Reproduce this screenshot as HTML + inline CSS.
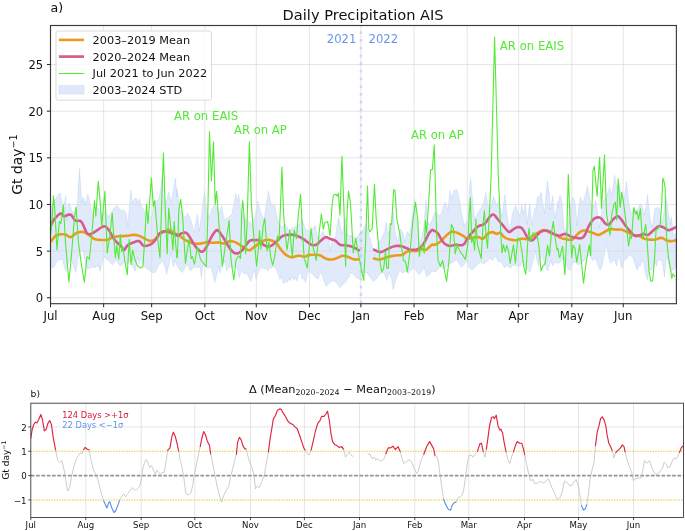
<!DOCTYPE html>
<html><head><meta charset="utf-8"><title>Daily Precipitation AIS</title><style>html,body{margin:0;padding:0;background:#fff}svg{display:block}svg{will-change:transform}</style></head><body>
<svg width="685" height="531" viewBox="0 0 685 531" font-family="DejaVu Sans, Liberation Sans, sans-serif">
<rect width="685" height="531" fill="#fff"/>
<defs><clipPath id="ca"><rect x="50.5" y="25.5" width="625.9" height="278.2"/></clipPath><clipPath id="cb"><rect x="30.8" y="403.2" width="652.7" height="114.3"/></clipPath></defs>
<g clip-path="url(#ca)"><polygon points="50.9,209.3 51.8,205.6 54.6,200.8 58.4,194.2 60.3,193.2 62.2,203.7 64.1,204.6 65.7,196.1 67.0,220.7 68.1,204.6 69.3,202.7 71.7,210.3 74.6,214.1 77.4,203.7 78.4,184.7 79.5,168.5 80.6,184.7 81.8,202.7 83.1,197.0 85.0,203.7 87.9,194.2 90.1,203.7 92.6,215.0 94.5,216.9 97.7,207.4 101.1,214.1 104.9,211.2 108.7,216.9 113.5,208.4 117.3,205.6 120.1,210.3 123.9,210.3 126.2,213.1 127.9,226.1 129.6,203.7 130.9,190.4 132.5,203.7 134.3,198.9 136.2,198.0 137.6,202.7 139.5,198.9 141.9,207.4 143.8,209.3 145.7,216.9 148.6,218.8 152.0,215.0 154.3,200.8 158.1,200.8 160.0,194.2 161.9,178.0 163.2,194.2 165.7,203.7 168.5,192.3 171.4,202.7 173.3,190.4 175.5,178.0 176.9,197.1 177.1,188.5 179.7,208.5 182.6,214.2 185.4,218.0 187.3,213.2 190.2,218.0 194.2,232.4 197.4,214.2 199.3,231.3 201.8,212.3 204.4,191.1 206.3,208.5 209.2,218.0 212.0,208.5 214.9,204.7 217.7,209.5 219.6,214.2 221.5,205.7 224.3,219.9 228.7,217.1 231.9,214.2 233.8,204.7 235.7,193.3 237.2,200.9 238.8,194.8 240.5,208.5 243.3,216.1 247.1,219.9 252.8,225.0 255.7,214.2 257.9,200.9 259.5,208.5 261.4,214.2 264.2,219.9 266.1,204.7 268.4,191.1 270.8,202.8 272.7,206.6 274.6,204.7 277.5,219.9 281.3,227.5 285.1,223.7 288.9,230.3 292.7,227.5 296.5,226.5 300.3,223.7 302.2,218.9 304.1,225.6 305.8,229.2 310.5,231.1 315.3,225.4 318.1,238.7 322.9,231.1 326.7,238.7 329.1,240.6 330.5,250.4 332.0,240.6 335.2,238.7 337.3,223.5 338.6,217.4 340.3,225.4 342.2,233.9 344.1,225.4 345.3,218.0 346.4,225.4 347.7,234.9 351.4,235.8 356.1,238.7 359.9,233.0 363.1,230.1 366.1,223.5 370.1,239.0 374.9,255.2 378.5,243.8 382.3,237.1 384.8,231.1 386.1,222.1 387.6,233.5 390.6,229.3 393.3,211.7 395.4,233.5 397.5,241.7 400.5,228.8 403.2,233.5 404.7,241.7 407.3,231.4 409.2,235.6 411.3,224.2 414.6,198.8 416.6,221.0 419.7,244.9 421.8,236.6 423.8,226.3 425.9,199.7 427.4,221.0 430.1,225.2 434.7,212.3 440.4,216.1 445.1,201.9 448.0,210.4 449.9,190.5 451.8,199.0 453.7,190.5 456.5,189.5 458.4,194.3 461.3,212.3 464.1,225.0 467.9,219.9 469.4,187.6 470.8,179.1 472.3,197.1 474.6,219.9 479.3,210.4 483.1,204.7 485.9,192.4 487.8,204.7 490.7,208.5 493.5,196.2 496.4,204.7 499.2,200.9 500.0,207.6 502.1,216.9 504.9,194.7 507.2,215.9 509.9,231.5 512.3,213.8 515.5,205.5 518.0,213.2 520.3,214.8 521.8,203.9 523.5,214.8 525.4,202.8 527.1,224.3 529.6,203.6 532.1,225.2 534.7,208.5 535.7,209.7 537.4,197.1 539.8,196.2 541.2,192.2 543.1,205.5 544.6,213.8 546.1,193.1 547.4,181.0 549.0,192.2 550.3,209.7 552.7,195.8 554.8,218.9 556.7,208.5 557.9,200.9 558.2,207.6 559.9,195.4 561.6,198.4 564.1,228.4 567.0,233.2 570.4,205.7 572.5,196.9 574.5,199.6 575.7,207.8 577.0,226.0 578.5,208.9 580.4,197.3 582.0,203.2 584.2,198.4 585.9,193.3 587.5,185.9 589.0,194.3 591.1,205.7 594.3,205.7 595.6,200.5 597.3,211.0 599.2,228.1 600.9,216.1 603.6,200.5 606.4,196.9 609.7,187.1 611.2,195.4 612.9,187.6 614.8,175.3 616.7,187.6 618.6,181.9 620.5,191.4 622.4,197.1 623.9,200.5 626.5,181.9 628.5,200.5 630.5,211.0 632.0,213.1 634.1,209.3 637.2,211.0 640.4,203.6 642.5,207.8 644.6,215.0 646.1,205.7 647.6,194.3 648.6,205.7 650.3,220.3 652.4,227.5 653.9,216.1 654.8,208.9 657.5,207.4 659.6,208.9 660.5,216.1 662.0,224.3 664.1,211.0 665.6,195.4 667.4,205.7 668.9,218.2 670.4,224.3 671.3,217.1 672.5,226.3 673.4,234.7 674.6,233.8 675.7,240.0 675.9,266.1 674.2,269.8 673.0,269.2 671.3,271.0 669.7,268.5 668.5,262.3 667.2,256.8 666.4,258.0 665.5,267.3 664.5,277.2 663.3,268.5 662.0,259.9 661.0,261.1 659.5,259.2 658.1,259.9 656.5,266.1 655.6,262.3 654.3,264.8 652.7,267.9 651.1,270.4 649.9,269.2 648.6,272.3 647.4,279.7 646.5,277.2 645.3,272.3 644.0,264.8 642.8,260.5 641.6,261.7 640.0,266.7 638.7,264.8 637.2,270.4 636.2,267.9 634.7,262.9 633.2,258.0 631.6,256.1 629.8,255.5 627.9,256.1 626.3,259.9 624.8,258.6 623.6,262.3 622.1,268.5 620.8,264.8 619.6,257.4 618.0,259.2 616.4,266.1 614.9,259.9 613.4,260.5 611.8,262.3 610.2,262.9 608.7,257.4 607.4,248.7 606.5,245.0 605.6,247.4 603.7,257.4 601.9,266.7 600.0,270.4 598.1,265.2 595.3,258.2 592.3,260.5 590.0,254.7 586.9,257.0 584.1,260.5 581.3,262.9 578.3,265.2 575.2,261.7 572.4,264.0 570.0,270.5 568.3,269.0 566.3,264.8 563.1,258.6 561.1,260.7 559.0,263.3 556.4,262.8 554.3,262.3 552.8,265.9 550.7,260.7 549.2,265.9 547.6,271.1 545.5,266.9 543.5,259.7 541.4,256.6 539.9,257.6 538.3,265.9 537.1,260.7 535.7,251.4 534.2,256.6 532.1,263.8 530.0,272.1 527.4,270.0 524.3,265.9 522.3,260.7 520.2,266.4 518.1,265.4 515.5,265.9 512.9,264.8 510.9,268.0 508.8,266.9 506.7,265.4 504.7,268.0 502.1,263.8 500.0,260.7 498.4,261.7 495.3,255.8 492.5,260.5 489.7,258.2 486.7,261.7 483.6,264.0 480.8,261.7 478.0,264.0 475.0,267.5 471.5,269.9 469.2,267.5 466.8,260.5 464.5,264.0 461.7,267.5 458.6,262.9 456.3,259.4 454.0,261.7 451.6,262.9 449.3,264.0 446.3,266.4 443.5,268.7 441.1,266.4 438.3,268.7 435.3,272.2 432.2,271.0 429.4,274.5 426.6,276.9 424.3,267.5 421.3,272.2 418.9,274.5 416.6,271.0 413.6,267.5 411.2,269.9 408.4,273.4 405.6,271.0 402.6,273.4 400.2,269.9 397.9,274.5 395.6,280.4 393.2,289.7 391.6,279.2 389.2,272.2 386.9,280.4 385.1,275.7 382.7,272.2 379.2,274.5 376.2,279.2 373.4,281.5 370.6,278.0 367.5,273.4 364.5,272.2 361.7,274.5 358.9,279.2 355.8,276.9 352.8,273.4 350.0,272.2 349.5,275.7 346.0,281.5 342.5,285.1 339.7,287.4 336.7,282.7 333.2,280.4 329.7,282.7 326.2,286.2 323.8,280.4 321.0,271.0 318.0,279.2 314.9,276.9 312.1,273.4 310.0,272.1 308.8,271.1 307.3,274.2 305.7,282.4 303.7,278.3 302.1,279.3 300.6,271.1 298.5,275.2 296.9,280.9 295.4,277.3 293.8,280.4 291.8,276.2 290.2,280.9 288.7,278.3 287.1,282.4 285.5,281.4 283.5,283.5 281.4,276.2 279.9,279.3 277.8,273.1 275.7,268.5 273.6,265.9 271.6,268.5 270.0,266.9 268.0,271.1 265.9,268.0 264.3,269.0 261.7,267.4 259.7,269.0 257.6,274.2 256.0,279.3 254.5,270.0 252.9,274.2 250.9,281.4 249.3,278.3 246.7,273.1 245.0,274.2 243.3,273.1 241.3,271.1 239.2,277.8 237.6,271.1 236.1,264.8 233.0,267.4 230.9,268.0 228.3,265.9 226.8,271.1 224.2,260.7 221.6,266.9 220.0,273.1 218.5,265.9 216.9,274.2 214.9,282.4 212.8,274.2 210.7,265.9 208.1,269.0 205.0,265.9 203.0,264.8 201.4,277.8 199.8,265.9 198.3,268.0 195.7,266.9 192.6,268.0 190.5,271.1 187.4,264.8 185.4,266.9 182.2,272.6 180.0,270.0 177.3,265.9 175.2,260.7 173.7,266.9 172.1,260.7 171.1,252.4 169.0,263.8 166.7,274.2 164.9,266.9 162.8,260.7 160.7,262.8 157.6,266.9 155.5,272.1 153.5,273.1 150.4,271.1 148.3,269.5 145.7,268.0 143.1,264.8 140.5,258.6 139.0,263.8 137.4,256.6 135.4,271.1 133.3,268.0 130.7,260.7 127.1,264.3 124.5,261.2 122.4,264.8 120.0,265.9 116.3,259.7 112.1,264.8 109.0,260.7 106.4,259.2 104.9,256.6 101.8,263.8 100.2,271.6 98.1,265.4 95.5,267.4 91.4,266.9 87.8,269.5 85.7,265.9 84.2,255.5 82.6,249.3 80.5,251.4 78.0,258.6 75.9,272.6 73.8,266.9 70.7,258.6 68.0,264.0 65.5,271.1 62.4,259.2 59.3,259.7 56.2,262.3 54.0,267.0 52.1,268.0 50.5,262.0" fill="#6495ed" fill-opacity="0.2" stroke="#6495ed" stroke-opacity="0.22" stroke-width="0.7" stroke-linejoin="round"/>
<path d="M103.66 25.5V303.7 M151.67 25.5V303.7 M204.83 25.5V303.7 M256.28 25.5V303.7 M309.43 25.5V303.7 M360.88 25.5V303.7 M414.04 25.5V303.7 M467.20 25.5V303.7 M518.64 25.5V303.7 M571.80 25.5V303.7 M623.24 25.5V303.7 M50.5 297.80H676.4 M50.5 251.15H676.4 M50.5 204.50H676.4 M50.5 157.85H676.4 M50.5 111.20H676.4 M50.5 64.55H676.4" stroke="#dadada" stroke-width="0.7" fill="none"/>
<line x1="360.9" y1="25.5" x2="360.9" y2="303.7" stroke="#6495ed" stroke-opacity="0.27" stroke-width="2.5" stroke-dasharray="2.8 4.9" stroke-dashoffset="1.9"/>
<polyline points="50.9,241.5 51.7,240.4 52.9,238.7 54.2,237.1 55.6,235.8 57.0,235.1 58.4,234.7 59.9,234.4 61.3,234.3 62.5,234.2 63.7,234.3 64.9,234.5 66.0,234.9 67.2,235.5 68.3,236.3 69.5,237.0 70.8,237.1 72.1,236.5 73.5,235.2 75.0,233.9 76.5,233.0 78.1,232.4 79.8,232.0 81.5,231.9 83.1,232.0 84.6,232.4 86.0,233.1 87.4,234.0 88.8,234.9 90.2,235.9 91.6,237.1 93.0,238.2 94.5,239.0 96.1,239.5 97.8,239.8 99.5,239.9 101.1,240.0 102.8,240.0 104.5,240.0 106.2,239.9 107.8,239.6 109.2,239.1 110.6,238.4 112.0,237.7 113.5,237.1 115.1,236.8 116.7,236.5 118.4,236.3 120.1,236.2 122.0,236.1 124.0,236.0 125.9,235.9 127.7,235.8 129.3,235.6 130.7,235.2 132.0,235.0 133.4,234.9 134.8,234.9 136.3,235.1 137.7,235.4 139.1,235.8 140.5,236.4 141.9,237.1 143.4,237.9 144.8,238.7 146.2,239.4 147.7,240.1 149.1,240.7 150.5,240.9 151.7,240.8 152.9,240.4 154.1,239.8 155.2,239.0 156.4,237.9 157.5,236.5 158.7,235.1 160.0,233.9 161.4,233.0 162.9,232.2 164.4,231.6 165.7,231.1 166.8,230.5 167.7,230.0 168.6,229.7 169.5,229.7 170.4,230.2 171.3,230.9 172.2,231.8 173.3,232.6 174.5,233.2 175.8,233.8 177.0,234.4 178.0,234.9 178.6,235.1 178.9,235.2 179.2,235.4 179.7,235.8 180.7,236.6 181.9,237.6 183.2,238.6 184.5,239.6 185.8,240.4 187.3,241.2 188.7,241.9 190.2,242.4 191.6,242.9 193.0,243.3 194.5,243.6 195.9,243.8 197.3,243.8 198.7,243.8 200.1,243.6 201.6,243.4 203.0,243.1 204.4,242.7 205.8,242.3 207.3,242.1 208.7,242.1 210.1,242.4 211.5,242.7 213.0,242.8 214.4,242.8 215.8,242.6 217.2,242.5 218.7,242.4 220.1,242.7 221.5,243.0 222.9,243.4 224.3,243.4 225.8,243.0 227.2,242.2 228.6,241.5 230.0,241.1 231.5,241.1 232.9,241.4 234.3,241.9 235.7,242.4 237.2,243.2 238.6,244.0 240.1,245.0 241.4,245.9 242.7,246.7 243.9,247.6 245.1,248.4 246.2,249.1 247.2,249.6 248.1,250.0 249.0,250.2 250.0,250.0 251.1,249.5 252.2,248.6 253.4,247.6 254.7,246.6 256.1,245.6 257.5,244.5 259.0,243.4 260.4,242.4 261.8,241.6 263.3,240.9 264.7,240.3 266.1,240.0 267.5,239.9 269.0,239.9 270.4,240.2 271.8,240.6 273.0,241.0 274.2,241.6 275.4,242.4 276.5,243.4 277.7,244.8 278.9,246.6 280.1,248.4 281.3,250.0 282.4,251.4 283.6,252.7 284.8,253.8 286.0,254.8 287.4,255.7 288.8,256.4 290.2,257.0 291.7,257.2 293.3,257.1 295.0,256.6 296.7,256.0 298.4,255.7 300.1,255.8 301.9,256.2 303.6,256.5 305.0,256.7 305.9,256.5 306.4,256.1 306.9,255.7 307.7,255.3 308.9,255.1 310.3,254.9 311.8,254.8 313.4,254.8 315.0,254.8 316.7,254.8 318.4,255.0 320.0,255.3 321.5,256.0 322.9,256.9 324.3,257.9 325.7,258.6 327.1,259.0 328.6,259.4 330.0,259.5 331.4,259.5 332.8,259.3 334.3,259.0 335.7,258.5 337.1,258.0 338.6,257.4 340.0,256.7 341.4,256.1 342.8,255.7 344.0,255.7 345.2,255.9 346.3,256.3 347.6,256.7 348.9,257.2 350.3,258.0 351.8,258.6 353.2,259.1 354.8,259.4 356.4,259.5 357.9,259.5 358.9,259.5" fill="none" stroke="#ec9a1c" stroke-width="2.6" stroke-linejoin="round" stroke-linecap="round"/>
<polyline points="374.1,258.6 375.1,258.8 376.6,259.2 378.3,259.5 379.8,259.5 381.2,259.2 382.7,258.7 384.1,258.1 385.5,257.6 386.9,257.2 388.4,256.8 389.8,256.4 391.2,256.1 392.6,255.9 394.0,255.7 395.5,255.5 396.9,255.3 398.4,255.2 399.9,255.2 401.3,255.1 402.6,254.8 403.6,254.2 404.5,253.4 405.4,252.6 406.4,251.9 407.5,251.5 408.6,251.3 409.9,251.1 411.1,251.0 412.5,251.0 414.0,251.0 415.5,251.1 416.8,251.0 417.9,250.6 418.8,250.0 419.6,249.4 420.6,249.1 421.8,249.2 423.0,249.6 424.2,250.0 425.4,250.0 426.4,249.6 427.4,248.8 428.3,248.0 429.2,247.2 429.9,246.5 430.7,245.8 431.3,245.2 432.0,244.7 432.6,244.6 433.2,244.8 433.8,244.9 434.7,244.7 435.9,244.2 437.4,243.5 438.9,242.6 440.4,241.5 441.8,240.2 443.2,238.7 444.7,237.2 446.1,235.8 447.5,234.5 448.9,233.3 450.3,232.2 451.8,231.6 453.2,231.5 454.6,231.9 456.0,232.4 457.5,233.0 458.9,233.6 460.4,234.3 461.9,235.1 463.2,235.8 464.2,236.6 465.1,237.5 465.9,238.2 467.0,238.7 468.2,238.7 469.7,238.4 471.2,238.0 472.6,237.7 474.1,237.5 475.6,237.3 477.0,237.1 478.4,237.1 479.6,237.5 480.8,238.2 481.9,238.7 483.1,238.7 484.3,237.8 485.5,236.5 486.6,235.0 487.8,233.9 489.0,233.1 490.3,232.5 491.5,232.2 492.6,232.0 493.6,232.3 494.5,232.9 495.5,233.5 496.4,233.9 497.3,233.7 498.2,233.3 499.2,232.9 500.2,233.0 501.3,233.8 502.4,235.2 503.6,236.6 504.9,237.7 506.3,238.4 507.7,238.9 509.2,239.3 510.6,239.6 512.0,239.9 513.5,240.1 514.9,240.2 516.3,240.2 517.7,239.9 519.1,239.4 520.6,238.9 522.0,238.7 523.4,238.7 524.8,238.9 526.3,239.1 527.7,239.0 529.1,238.5 530.5,237.7 532.0,236.7 533.4,235.8 534.8,234.8 536.3,233.8 537.7,232.8 539.1,232.0 540.3,231.3 541.5,230.7 542.7,230.3 543.8,230.1 545.0,230.3 546.2,230.8 547.4,231.4 548.6,232.0 549.8,232.5 551.0,233.0 552.2,233.5 553.3,233.9 554.2,234.3 555.0,234.5 555.7,234.8 556.5,235.2 557.5,235.8 558.5,236.6 559.6,237.3 560.7,237.9 561.8,238.3 562.9,238.6 564.1,238.8 565.4,239.0 567.0,239.4 568.7,239.7 570.4,239.9 572.1,239.6 573.6,238.6 575.0,237.0 576.4,235.3 577.8,233.9 579.0,232.8 580.2,231.9 581.4,231.2 582.5,230.7 583.7,230.5 584.8,230.5 586.0,230.8 587.3,231.1 588.6,231.4 590.1,231.9 591.5,232.4 593.0,233.0 594.4,233.5 595.8,234.2 597.2,234.7 598.6,234.9 600.1,234.5 601.5,233.7 602.9,232.8 604.4,232.0 605.8,231.2 607.2,230.4 608.6,229.6 610.0,229.2 611.5,229.0 612.9,229.2 614.3,229.4 615.7,229.5 617.2,229.6 618.6,229.5 620.0,229.5 621.4,229.7 622.9,230.1 624.3,230.7 625.7,231.4 627.1,232.0 628.5,232.7 630.0,233.5 631.4,234.3 632.8,234.9 634.2,235.2 635.7,235.3 637.1,235.5 638.5,235.8 639.9,236.4 641.4,237.2 642.8,238.0 644.2,238.7 645.6,239.0 647.0,239.3 648.5,239.5 649.9,239.6 651.3,239.7 652.7,239.8 654.2,239.8 655.6,239.6 657.0,239.1 658.4,238.5 659.9,237.9 661.3,237.7 662.7,238.1 664.2,239.0 665.6,239.9 667.0,240.6 668.3,240.9 669.5,241.1 670.6,241.1 671.7,241.1 672.8,241.0 673.9,240.7 674.9,240.4 675.5,240.2" fill="none" stroke="#ec9a1c" stroke-width="2.6" stroke-linejoin="round" stroke-linecap="round"/>
<polyline points="50.9,225.4 51.5,224.1 52.4,222.4 53.4,220.4 54.6,218.7 56.1,217.1 57.8,215.5 59.5,214.1 60.9,213.4 61.9,213.7 62.5,214.6 63.2,215.7 64.1,216.3 65.5,216.0 67.1,215.2 68.8,214.5 70.4,214.6 71.7,215.6 73.0,217.4 74.2,219.3 75.5,220.6 76.9,221.0 78.3,220.8 79.8,220.7 81.2,221.6 82.7,223.9 84.2,227.3 85.6,230.6 86.9,233.0 88.0,234.0 88.9,234.3 89.7,234.2 90.7,233.9 91.7,233.6 92.8,233.1 94.0,232.3 95.5,231.4 97.4,230.1 99.7,228.5 102.0,227.0 104.0,226.3 105.4,226.5 106.5,227.3 107.6,228.6 108.7,230.1 110.1,232.1 111.5,234.7 112.9,237.3 114.4,239.6 116.1,241.5 117.9,243.3 119.7,244.8 121.1,246.2 122.0,247.6 122.7,248.9 123.2,249.8 123.9,250.0 124.8,249.4 125.6,248.1 126.6,246.5 127.7,245.3 129.0,244.4 130.4,243.7 131.9,243.0 133.4,242.4 134.9,241.9 136.3,241.3 137.7,241.0 139.1,241.1 140.3,242.0 141.4,243.5 142.5,245.0 143.8,245.9 145.6,246.0 147.6,245.6 149.6,244.9 151.4,244.0 153.1,242.7 154.6,241.0 156.0,239.2 157.1,237.7 157.8,236.5 158.1,235.6 158.4,234.7 159.0,233.9 160.0,233.1 161.2,232.4 162.5,231.8 163.8,231.4 165.0,231.3 166.1,231.5 167.3,231.7 168.5,232.0 169.7,232.4 170.9,232.9 172.1,233.4 173.3,233.9 174.5,234.4 175.9,235.0 177.1,235.5 178.0,235.8 178.4,235.8 178.5,235.6 178.5,235.2 178.8,234.9 179.5,234.4 180.5,233.9 181.6,233.3 182.6,233.0 183.5,232.7 184.5,232.5 185.4,232.6 186.4,233.0 187.3,233.8 188.3,234.9 189.2,236.3 190.2,237.7 191.1,239.3 192.0,241.0 193.0,242.7 194.0,244.3 195.1,245.9 196.3,247.5 197.6,248.9 198.7,250.0 199.7,250.9 200.7,251.4 201.6,251.7 202.5,251.6 203.4,251.0 204.4,250.1 205.3,248.8 206.3,247.2 207.4,245.1 208.6,242.6 209.8,240.1 211.1,237.7 212.4,235.4 213.9,233.0 215.4,231.1 216.8,230.1 218.0,230.4 219.2,231.5 220.3,233.2 221.5,234.9 222.7,236.6 223.9,238.5 225.1,240.5 226.2,242.4 227.4,244.4 228.6,246.5 229.8,248.4 231.0,250.0 232.2,251.3 233.4,252.3 234.5,253.1 235.7,253.5 236.9,253.5 238.1,253.3 239.3,252.7 240.5,251.9 241.7,250.8 242.9,249.4 244.0,247.8 245.2,246.2 246.4,244.7 247.5,243.1 248.7,241.6 250.0,240.6 251.4,240.1 252.9,240.0 254.3,240.1 255.7,240.2 256.7,240.1 257.6,240.0 258.5,240.1 259.5,240.6 260.6,241.5 261.7,242.9 262.9,244.3 264.2,245.3 265.6,245.9 267.0,246.3 268.4,246.4 269.9,246.2 271.3,245.7 272.7,244.8 274.2,243.6 275.6,242.4 277.0,241.1 278.4,239.5 279.9,238.0 281.3,236.8 282.7,236.0 284.1,235.4 285.5,235.1 287.0,234.9 288.6,234.7 290.3,234.6 292.0,234.7 293.6,234.9 295.1,235.2 296.5,235.6 297.9,236.1 299.3,236.8 300.8,237.5 302.4,238.5 303.9,239.4 305.0,240.2 305.7,240.6 305.9,240.8 306.2,241.1 306.7,241.5 307.7,242.2 308.9,243.2 310.2,244.1 311.5,244.7 312.7,245.0 313.9,245.2 315.0,245.1 316.2,244.7 317.4,244.0 318.6,242.8 319.8,241.6 321.0,240.6 322.2,239.5 323.4,238.5 324.5,237.6 325.7,237.1 326.9,237.2 328.1,237.8 329.3,238.5 330.5,239.0 331.7,239.4 332.8,239.6 334.0,240.0 335.2,240.6 336.4,241.5 337.5,242.7 338.7,243.9 340.0,244.7 341.3,245.1 342.8,245.2 344.3,245.2 345.6,245.3 346.9,245.5 348.1,245.7 349.2,245.9 350.4,246.2 351.6,246.6 352.8,247.1 354.0,247.6 355.1,248.1 356.2,248.7 357.3,249.4 358.3,250.0 358.9,250.4" fill="none" stroke="#d75c8e" stroke-width="2.6" stroke-linejoin="round" stroke-linecap="round"/>
<polyline points="374.1,249.7 374.8,250.0 375.8,250.6 376.9,251.1 377.9,251.6 378.8,251.8 379.7,252.0 380.6,252.1 381.7,251.9 383.0,251.4 384.4,250.7 385.9,249.9 387.4,249.1 388.9,248.4 390.3,247.7 391.7,247.1 393.1,246.6 394.4,246.3 395.5,246.0 396.7,245.9 397.8,245.9 399.0,245.9 400.2,246.1 401.4,246.3 402.6,246.6 403.8,247.0 405.0,247.5 406.1,248.1 407.3,248.5 408.5,248.9 409.6,249.2 410.8,249.5 412.1,249.7 413.5,249.7 414.9,249.7 416.4,249.5 417.8,249.1 419.0,248.4 420.3,247.6 421.4,246.5 422.5,245.3 423.6,243.8 424.5,242.1 425.5,240.3 426.3,238.7 427.1,237.1 427.8,235.6 428.5,234.2 429.2,233.0 429.9,232.0 430.7,231.2 431.4,230.6 432.0,230.1 432.3,229.8 432.3,229.8 432.4,229.8 432.8,230.1 433.7,230.5 435.0,231.1 436.3,231.9 437.5,233.0 438.6,234.4 439.5,236.2 440.4,238.0 441.3,239.6 442.3,240.9 443.2,242.1 444.1,243.1 445.1,244.0 446.2,244.7 447.4,245.3 448.6,245.7 449.9,245.9 451.3,245.7 452.7,245.4 454.2,245.0 455.6,244.7 456.8,244.8 458.1,245.0 459.2,245.2 460.3,245.3 461.3,245.2 462.3,245.1 463.2,244.7 464.1,244.0 465.0,242.7 466.0,241.1 466.9,239.3 467.9,237.7 469.0,236.2 470.2,234.8 471.4,233.4 472.6,232.0 474.0,230.5 475.4,229.0 476.8,227.5 478.4,226.3 480.0,225.5 481.7,225.0 483.4,224.4 485.0,223.5 486.3,222.0 487.5,220.1 488.7,218.3 489.7,216.8 490.7,215.8 491.7,215.0 492.6,214.6 493.5,214.6 494.5,215.1 495.4,216.1 496.3,217.4 497.3,218.7 498.4,220.0 499.6,221.5 500.9,223.0 502.1,224.4 503.3,225.9 504.6,227.5 505.8,229.0 506.8,230.1 507.6,231.0 508.3,231.6 508.9,232.0 509.7,232.0 510.5,231.6 511.5,230.8 512.5,229.9 513.5,229.2 514.4,228.6 515.4,228.0 516.3,227.6 517.2,227.3 518.2,227.1 519.2,227.1 520.2,227.3 521.0,227.6 521.8,228.2 522.5,229.0 523.1,229.9 523.9,231.1 524.8,232.6 525.7,234.4 526.7,236.2 527.7,237.7 528.6,238.8 529.6,239.7 530.5,240.3 531.5,240.6 532.4,240.3 533.4,239.6 534.3,238.7 535.3,237.7 536.2,236.6 537.1,235.3 538.1,234.0 539.1,233.0 540.2,232.2 541.4,231.5 542.6,231.0 543.8,230.7 545.0,230.5 546.2,230.5 547.4,230.7 548.6,231.1 549.7,231.6 550.9,232.4 552.1,233.2 553.3,233.9 554.8,234.5 556.4,235.0 557.9,235.5 559.0,235.8 559.3,236.0 559.4,236.0 559.4,236.0 559.7,235.8 560.8,235.3 562.3,234.7 563.9,234.1 565.4,233.9 566.9,234.3 568.3,235.2 569.8,236.1 571.1,236.8 572.4,237.1 573.6,237.4 574.7,237.5 575.9,237.7 577.1,237.9 578.3,238.2 579.5,238.4 580.6,238.3 581.6,238.0 582.6,237.6 583.5,236.9 584.4,235.8 585.3,234.1 586.3,231.8 587.2,229.5 588.2,227.3 589.3,225.2 590.5,223.1 591.8,221.2 593.0,219.7 594.2,218.6 595.4,218.0 596.6,217.6 597.7,217.4 598.7,217.4 599.7,217.6 600.6,218.1 601.5,218.7 602.4,219.8 603.4,221.1 604.3,222.5 605.3,223.5 606.2,224.1 607.2,224.5 608.1,224.7 609.1,224.4 610.0,223.6 610.9,222.3 611.9,220.9 612.9,219.7 614.0,218.6 615.3,217.5 616.5,216.6 617.6,216.3 618.6,216.6 619.6,217.4 620.5,218.5 621.4,219.7 622.4,220.9 623.3,222.4 624.2,223.9 625.2,225.4 626.3,226.8 627.5,228.3 628.8,229.7 630.0,231.1 631.2,232.4 632.3,233.8 633.5,235.0 634.7,235.8 635.9,236.1 637.1,235.9 638.3,235.6 639.5,235.2 640.5,234.9 641.4,234.5 642.3,234.1 643.2,233.9 644.3,234.1 645.5,234.6 646.7,235.0 648.0,234.9 649.4,234.1 650.8,232.8 652.3,231.4 653.7,230.1 654.9,229.0 656.1,227.9 657.3,226.9 658.4,226.3 659.6,226.2 660.8,226.4 662.0,226.8 663.2,227.3 664.4,227.9 665.6,228.8 666.8,229.6 667.9,230.1 668.9,230.2 669.9,229.9 670.8,229.6 671.7,229.2 672.8,228.7 673.9,228.2 674.8,227.6 675.5,227.3" fill="none" stroke="#d75c8e" stroke-width="2.6" stroke-linejoin="round" stroke-linecap="round"/>
<polyline points="50.9,233.0 52.2,217.8 53.5,195.9 55.0,212.1 56.9,250.0 59.4,221.6 60.9,223.5 63.4,205.1 65.5,242.4 68.9,282.3 71.7,251.9 74.6,215.9 76.1,207.3 78.4,242.4 81.8,267.1 84.4,282.3 86.0,267.1 86.9,256.7 89.4,259.1 92.0,233.0 94.5,200.7 95.8,215.9 98.3,181.3 100.2,202.6 101.7,226.1 104.9,191.2 106.1,223.5 107.2,252.9 109.7,236.8 112.2,213.0 113.9,238.7 115.4,257.6 116.7,245.1 118.8,259.1 120.3,234.3 121.8,251.6 123.0,247.2 124.9,261.4 127.3,274.7 129.2,239.6 131.1,264.8 132.7,250.0 134.9,259.5 137.2,265.2 140.4,268.1 142.9,266.7 144.8,238.7 146.5,204.1 148.0,223.5 151.4,177.9 153.3,206.4 154.7,200.7 156.6,223.5 158.1,242.4 160.0,257.6 161.3,214.0 163.4,152.9 165.3,210.2 167.2,253.8 168.7,208.3 171.4,233.0 172.9,250.0 174.2,221.6 175.5,242.4 176.9,257.6 177.4,257.6 178.8,210.2 180.7,199.4 182.6,215.9 185.4,263.3 187.3,250.0 189.2,238.7 191.1,258.6 192.5,256.7 194.4,264.3 197.4,247.2 200.6,259.5 203.5,263.3 206.3,266.7 207.6,223.5 209.5,131.6 211.4,181.0 213.5,141.7 215.2,204.5 216.6,191.4 219.6,233.0 222.4,266.2 224.7,250.0 229.1,220.6 231.0,259.5 233.8,280.0 236.1,259.5 238.6,255.7 240.5,258.6 241.8,210.2 242.8,200.5 244.3,219.7 245.6,253.8 247.1,223.5 249.4,141.7 251.3,202.6 253.2,229.2 256.6,266.2 258.1,251.9 259.5,230.5 261.0,249.3 263.2,225.4 264.8,218.2 267.1,251.0 268.9,242.4 270.8,257.6 272.7,265.2 274.6,257.6 277.5,235.8 279.0,240.6 280.5,206.4 281.9,167.1 283.6,214.0 285.1,233.0 287.0,250.0 289.8,230.1 292.3,257.6 294.2,230.1 296.5,238.7 298.4,214.0 300.6,194.2 302.5,233.0 304.3,259.5 305.0,260.5 307.3,268.1 311.1,228.2 313.0,246.2 316.2,260.5 319.1,233.0 321.4,213.8 323.3,229.2 324.8,222.7 327.6,221.4 330.1,235.8 332.0,206.4 333.3,195.2 335.8,194.2 337.1,196.1 338.4,193.3 340.0,215.1 341.9,156.3 344.1,214.0 345.6,266.2 347.2,210.2 348.5,191.0 350.4,202.6 351.7,223.5 353.2,252.9 355.7,238.3 358.0,251.9 360.8,266.2 363.7,280.4 365.6,242.4 367.5,186.1 368.8,229.2 369.9,232.0 372.2,228.2 374.5,184.2 376.0,215.9 377.9,238.7 380.2,263.3 381.7,271.9 383.6,269.0 385.5,251.4 386.8,268.1 388.4,268.1 390.2,223.5 391.6,224.4 393.7,189.5 395.0,190.4 396.9,219.7 399.7,233.0 403.5,260.5 405.4,261.4 407.3,271.9 410.2,250.0 413.0,219.7 415.5,202.4 417.8,219.7 419.3,256.5 420.8,248.3 422.7,245.1 424.2,253.5 425.4,220.6 426.7,233.0 428.8,198.8 430.5,170.6 431.1,169.6 432.4,169.6 434.3,144.9 435.6,195.0 436.6,233.0 438.1,260.5 440.4,266.2 442.7,260.5 444.6,270.9 446.6,281.4 448.9,261.4 451.4,224.4 453.3,228.2 455.2,253.8 457.1,244.7 460.3,251.9 463.2,255.7 465.4,259.5 467.9,243.4 469.2,214.0 470.4,197.8 471.7,242.4 473.0,236.8 474.6,250.0 475.9,219.3 477.4,244.3 481.2,258.6 483.1,223.5 484.4,210.8 485.9,233.0 487.5,248.1 489.4,214.0 491.1,176.0 494.6,37.3 498.3,176.0 499.2,195.0 500.7,233.0 502.1,252.9 503.4,244.7 505.3,251.9 506.8,245.3 508.3,250.0 510.2,263.3 513.5,244.7 515.4,263.3 517.8,237.7 520.1,240.6 522.0,251.9 523.9,267.1 525.8,274.3 527.7,242.4 529.0,228.2 530.5,241.5 533.0,233.0 535.3,233.0 537.6,238.7 539.1,248.1 541.0,270.9 542.9,266.2 545.1,263.7 547.6,245.3 549.5,255.7 551.4,233.0 553.3,221.6 555.2,238.7 557.1,250.0 557.9,248.1 559.0,255.7 559.7,257.6 562.6,246.2 564.9,274.7 566.8,233.0 568.3,174.3 570.2,223.5 571.7,257.6 573.0,245.3 574.9,248.1 576.8,262.4 579.7,244.7 583.5,283.2 586.3,261.4 589.2,244.7 590.7,255.7 592.0,206.4 593.0,170.5 594.3,166.3 597.1,196.1 599.6,157.2 601.5,208.5 604.5,154.9 606.6,214.0 608.1,223.5 610.0,235.2 611.9,214.0 613.8,204.7 615.4,202.4 616.7,219.9 618.2,178.7 620.1,207.5 621.8,192.3 623.3,200.9 626.2,223.5 628.6,246.2 630.0,235.8 631.5,238.7 633.8,207.5 635.7,214.2 637.0,211.3 638.5,219.9 640.4,208.8 641.9,233.0 643.2,237.7 645.7,224.4 647.0,238.7 649.0,270.9 650.8,281.4 652.7,280.4 654.6,257.6 656.0,230.1 658.4,228.2 660.3,223.5 661.7,204.5 662.8,178.1 664.1,181.9 665.1,187.6 665.8,214.0 666.6,238.7 668.5,257.6 670.8,270.9 671.7,278.5 673.0,273.8 674.6,276.6" fill="none" stroke="#52ea35" stroke-width="1.1" stroke-linejoin="round" stroke-linecap="round"/>
</g>
<rect x="50.5" y="25.5" width="625.9" height="278.2" fill="none" stroke="#3a3a3a" stroke-width="1.15"/>
<path d="M50.50 303.7v3.6 M103.66 303.7v3.6 M151.67 303.7v3.6 M204.83 303.7v3.6 M256.28 303.7v3.6 M309.43 303.7v3.6 M360.88 303.7v3.6 M414.04 303.7v3.6 M467.20 303.7v3.6 M518.64 303.7v3.6 M571.80 303.7v3.6 M623.24 303.7v3.6 M50.5 297.80h-3.6 M50.5 251.15h-3.6 M50.5 204.50h-3.6 M50.5 157.85h-3.6 M50.5 111.20h-3.6 M50.5 64.55h-3.6" stroke="#262626" stroke-width="1" fill="none"/>
<text x="50.5" y="319.5" font-size="11.7" text-anchor="middle" fill="#111">Jul</text>
<text x="103.7" y="319.5" font-size="11.7" text-anchor="middle" fill="#111">Aug</text>
<text x="151.7" y="319.5" font-size="11.7" text-anchor="middle" fill="#111">Sep</text>
<text x="204.8" y="319.5" font-size="11.7" text-anchor="middle" fill="#111">Oct</text>
<text x="256.3" y="319.5" font-size="11.7" text-anchor="middle" fill="#111">Nov</text>
<text x="309.4" y="319.5" font-size="11.7" text-anchor="middle" fill="#111">Dec</text>
<text x="360.9" y="319.5" font-size="11.7" text-anchor="middle" fill="#111">Jan</text>
<text x="414.0" y="319.5" font-size="11.7" text-anchor="middle" fill="#111">Feb</text>
<text x="467.2" y="319.5" font-size="11.7" text-anchor="middle" fill="#111">Mar</text>
<text x="518.6" y="319.5" font-size="11.7" text-anchor="middle" fill="#111">Apr</text>
<text x="571.8" y="319.5" font-size="11.7" text-anchor="middle" fill="#111">May</text>
<text x="623.2" y="319.5" font-size="11.7" text-anchor="middle" fill="#111">Jun</text>
<text x="43.2" y="302.3" font-size="11.6" text-anchor="end" fill="#111">0</text>
<text x="43.2" y="255.7" font-size="11.6" text-anchor="end" fill="#111">5</text>
<text x="43.2" y="209.0" font-size="11.6" text-anchor="end" fill="#111">10</text>
<text x="43.2" y="162.4" font-size="11.6" text-anchor="end" fill="#111">15</text>
<text x="43.2" y="115.7" font-size="11.6" text-anchor="end" fill="#111">20</text>
<text x="43.2" y="69.1" font-size="11.6" text-anchor="end" fill="#111">25</text>
<text transform="translate(21.5,164.5) rotate(-90)" font-size="13.9" text-anchor="middle" fill="#111">Gt day<tspan font-size="9.7" dy="-4.4">−1</tspan></text>
<text x="363.1" y="19.9" font-size="14.6" text-anchor="middle" fill="#111">Daily Precipitation AIS</text>
<text x="50.6" y="12.3" font-size="12.6" fill="#111">a)</text>
<text x="326.8" y="43.3" font-size="11.6" fill="#6495ed">2021</text>
<text x="368.5" y="43.3" font-size="11.6" fill="#6495ed">2022</text>
<text x="173.9" y="120" font-size="11.7" fill="#52ea35">AR on EAIS</text>
<text x="234" y="134.3" font-size="11.6" fill="#52ea35">AR on AP</text>
<text x="411" y="139" font-size="11.6" fill="#52ea35">AR on AP</text>
<text x="499.8" y="50" font-size="11.7" fill="#52ea35">AR on EAIS</text>
<rect x="56" y="31.0" width="155.5" height="69.2" rx="2.2" fill="#fff" fill-opacity="0.8" stroke="#d4d4d4" stroke-width="0.85"/>
<line x1="58.9" x2="84" y1="39.9" y2="39.9" stroke="#ec9a1c" stroke-width="2.6"/>
<line x1="58.9" x2="84" y1="56.6" y2="56.6" stroke="#d75c8e" stroke-width="2.7"/>
<line x1="58.9" x2="84" y1="73.5" y2="73.5" stroke="#52ea35" stroke-width="1.0"/>
<rect x="58.9" y="85.6" width="25.1" height="8.4" fill="#dfe9fa" stroke="#c9d8f3" stroke-width="0.5"/>
<text x="92.6" y="44.0" font-size="11.3" fill="#111">2003–2019 Mean</text>
<text x="92.6" y="60.6" font-size="11.3" fill="#111">2020–2024 Mean</text>
<text x="92.6" y="77.2" font-size="11.3" fill="#111">Jul 2021 to Jun 2022</text>
<text x="92.6" y="93.9" font-size="11.3" fill="#111">2003–2024 STD</text>
<path d="M85.8 403.2V517.5 M141.2 403.2V517.5 M194.8 403.2V517.5 M250.5 403.2V517.5 M304.4 403.2V517.5 M359.5 403.2V517.5 M414.8 403.2V517.5 M468.8 403.2V517.5 M524.5 403.2V517.5 M578.5 403.2V517.5 M633.5 403.2V517.5 M30.8 426.90H683.5" stroke="#dbdbdb" stroke-width="0.7" fill="none"/>
<path d="M30.8 451.25H683.5M30.8 499.95H683.5" stroke="#e4cf38" stroke-width="1.05" stroke-dasharray="1.5 1.08" fill="none"/>
<path d="M30.8 475.60H683.5" stroke="#949494" stroke-width="1.55" stroke-dasharray="3.7 1.6" fill="none"/>
<g clip-path="url(#cb)" id="bdata">
<polyline points="30.8,438.5 32.2,429.2 33.8,424.5 35.5,422.2 36.9,422.9 38.5,419.9 40.9,414.5 42.5,419.9 44.4,430.8 46.2,429.2 47.9,423.4 49.7,420.6 51.4,424.5 53.2,437.4 55.6,450.2" fill="none" stroke="#e0243f" stroke-width="1.15" stroke-linejoin="round" stroke-linecap="round"/>
<polyline points="55.6,450.2 57.9,460.7 59.5,462.6 61.9,460.7 64.2,470.1 65.8,480.6 67.7,491.1 69.6,487.6 71.9,474.8 74.2,465.4 76.6,458.4 78.9,454.9 80.6,452.6 82.2,453.7 83.6,449.5" fill="none" stroke="#bcbcbc" stroke-width="0.75" stroke-linejoin="round" stroke-linecap="round"/>
<polyline points="83.6,449.5 85.2,447.4 86.9,449.1 89.2,449.8" fill="none" stroke="#e0243f" stroke-width="1.15" stroke-linejoin="round" stroke-linecap="round"/>
<polyline points="89.2,449.8 90.6,458.4 92.9,467.7 94.6,472.4 96.2,474.3 98.1,480.6 100.4,489.9 102.8,498.1 103.7,500.9" fill="none" stroke="#bcbcbc" stroke-width="0.75" stroke-linejoin="round" stroke-linecap="round"/>
<polyline points="103.7,500.9 105.1,503.9 107.0,507.9 108.6,502.8 109.8,501.6 111.6,507.4 114.0,512.6 115.6,511.0 117.9,505.1 119.6,500.4" fill="none" stroke="#5b8fe8" stroke-width="1.15" stroke-linejoin="round" stroke-linecap="round"/>
<polyline points="119.6,500.4 121.4,496.9 123.8,493.9 125.6,496.9 128.0,493.4 130.3,489.9 132.4,487.6 134.3,489.9 136.6,489.9 139.7,486.4 141.3,479.4 142.5,470.1 144.3,463.1 146.0,459.6 147.6,461.9 149.5,467.7 151.3,465.4 153.7,470.1 155.3,474.8 156.9,470.1 158.8,472.4 160.7,474.8 162.3,472.4 164.2,472.4 165.8,463.1 167.7,450.2" fill="none" stroke="#bcbcbc" stroke-width="0.75" stroke-linejoin="round" stroke-linecap="round"/>
<polyline points="167.7,450.2 170.0,447.9 171.7,437.4 173.3,432.2 175.2,436.2 177.0,443.2 178.7,451.4" fill="none" stroke="#e0243f" stroke-width="1.15" stroke-linejoin="round" stroke-linecap="round"/>
<polyline points="178.7,451.4 180.3,460.7 182.2,467.7 184.0,479.4 185.7,492.3 186.9,494.6 188.5,494.6 190.8,493.0 192.5,486.4 194.3,474.8 196.7,463.1 198.6,453.7 200.2,446.7" fill="none" stroke="#bcbcbc" stroke-width="0.75" stroke-linejoin="round" stroke-linecap="round"/>
<polyline points="200.2,446.7 201.8,438.5 203.7,431.5 205.6,435.0 207.2,440.9 209.5,445.6 210.7,454.2" fill="none" stroke="#e0243f" stroke-width="1.15" stroke-linejoin="round" stroke-linecap="round"/>
<polyline points="210.7,454.2 212.6,463.1 214.9,474.8 217.2,486.4 219.6,495.8 221.7,502.1 223.5,495.8 225.9,491.1 228.9,486.0 230.6,477.1 232.9,467.7 235.2,458.4 236.4,454.2" fill="none" stroke="#bcbcbc" stroke-width="0.75" stroke-linejoin="round" stroke-linecap="round"/>
<polyline points="236.4,454.2 237.6,442.1 239.4,437.4 241.1,439.7 242.9,445.6 244.6,448.6 246.2,449.1" fill="none" stroke="#e0243f" stroke-width="1.15" stroke-linejoin="round" stroke-linecap="round"/>
<polyline points="246.2,449.1 247.6,454.9 249.2,460.7 251.6,466.6 253.9,474.8 255.5,488.8 257.4,486.0 259.3,487.6 261.6,481.8 264.4,474.8 266.8,460.7 268.4,451.9" fill="none" stroke="#bcbcbc" stroke-width="0.75" stroke-linejoin="round" stroke-linecap="round"/>
<polyline points="268.4,451.9 270.3,437.4 271.9,428.0 273.3,419.1 275.6,415.2 277.3,410.5 279.6,408.9 281.2,409.3 283.1,412.9 285.4,416.4 287.8,421.0 290.1,423.4 292.9,424.5 294.8,426.9 297.1,428.5 299.5,435.0 301.8,442.1 304.1,448.6 305.3,450.2" fill="none" stroke="#e0243f" stroke-width="1.15" stroke-linejoin="round" stroke-linecap="round"/>
<polyline points="305.3,450.2 306.9,453.3 309.3,454.9 311.1,450.2" fill="none" stroke="#bcbcbc" stroke-width="0.75" stroke-linejoin="round" stroke-linecap="round"/>
<polyline points="311.1,450.2 313.0,442.1 315.3,431.5 317.7,423.4 320.0,420.6 321.6,416.4 324.0,416.4 325.9,414.0 327.5,411.2 329.4,421.0 331.0,433.9 332.6,441.6 334.5,444.4 336.8,445.6 339.2,447.4 341.5,446.7 343.4,449.1 342.0,446.7 343.6,449.5" fill="none" stroke="#e0243f" stroke-width="1.15" stroke-linejoin="round" stroke-linecap="round"/>
<polyline points="343.6,449.5 345.5,457.2 347.1,454.9 349.0,451.9 350.9,454.9 353.0,456.5" fill="none" stroke="#bcbcbc" stroke-width="0.75" stroke-linejoin="round" stroke-linecap="round"/>
<polyline points="368.2,454.2 370.0,454.2 371.9,458.4 374.2,457.2 375.9,460.3 377.5,458.4 379.8,460.7 381.7,461.2 384.1,458.4 385.9,453.7" fill="none" stroke="#bcbcbc" stroke-width="0.75" stroke-linejoin="round" stroke-linecap="round"/>
<polyline points="385.9,453.7 388.2,447.9 390.6,447.9 392.9,446.2 395.3,449.5 398.1,446.7 400.4,451.9" fill="none" stroke="#e0243f" stroke-width="1.15" stroke-linejoin="round" stroke-linecap="round"/>
<polyline points="400.4,451.9 402.3,459.6 403.9,463.5 406.9,461.2 409.7,459.6 412.1,463.1 414.4,468.9 416.8,473.6 418.6,470.1 420.9,460.7 423.8,454.2" fill="none" stroke="#bcbcbc" stroke-width="0.75" stroke-linejoin="round" stroke-linecap="round"/>
<polyline points="423.8,454.2 426.6,446.7 429.6,441.6 431.9,445.6 433.6,448.6 435.0,455.6" fill="none" stroke="#e0243f" stroke-width="1.15" stroke-linejoin="round" stroke-linecap="round"/>
<polyline points="435.0,455.6 436.6,456.1 438.2,460.7 440.1,474.8 442.0,488.8 443.6,499.3" fill="none" stroke="#bcbcbc" stroke-width="0.75" stroke-linejoin="round" stroke-linecap="round"/>
<polyline points="443.6,499.3 445.9,505.1 448.3,509.3 450.6,510.2 452.2,505.1 454.1,502.8 456.0,502.1" fill="none" stroke="#5b8fe8" stroke-width="1.15" stroke-linejoin="round" stroke-linecap="round"/>
<polyline points="456.0,502.1 457.6,498.1 460.0,496.9 462.3,494.6 463.9,488.8 465.8,474.8 467.7,460.7 469.3,455.6 471.2,454.9 472.8,457.2 475.1,454.2 477.5,451.4" fill="none" stroke="#bcbcbc" stroke-width="0.75" stroke-linejoin="round" stroke-linecap="round"/>
<polyline points="477.5,451.4 479.8,443.9 481.4,443.2 483.3,451.9" fill="none" stroke="#e0243f" stroke-width="1.15" stroke-linejoin="round" stroke-linecap="round"/>
<polyline points="483.3,451.9 485.0,457.2 486.4,449.1" fill="none" stroke="#bcbcbc" stroke-width="0.75" stroke-linejoin="round" stroke-linecap="round"/>
<polyline points="486.4,449.1 488.0,437.4 489.6,425.7 491.5,417.5 493.4,416.8 494.3,418.7 496.2,415.2 498.0,425.7 499.7,429.9 500.9,429.2 502.5,432.7 504.1,442.1 506.0,451.9" fill="none" stroke="#e0243f" stroke-width="1.15" stroke-linejoin="round" stroke-linecap="round"/>
<polyline points="506.0,451.9 507.9,459.6 509.8,463.5 511.9,456.1 513.5,451.9" fill="none" stroke="#bcbcbc" stroke-width="0.75" stroke-linejoin="round" stroke-linecap="round"/>
<polyline points="513.5,451.9 515.4,445.6 517.2,441.6 519.6,443.2 521.7,443.2 523.5,449.1 524.7,454.9" fill="none" stroke="#e0243f" stroke-width="1.15" stroke-linejoin="round" stroke-linecap="round"/>
<polyline points="524.7,454.9 526.6,464.2 528.9,474.8 530.5,480.6 532.9,479.4 534.5,483.6 537.5,482.9 540.6,481.3 543.4,482.9 545.7,481.3 548.5,478.9 551.6,486.9 554.6,493.4 557.4,500.0 559.7,498.1 562.1,492.3 564.4,481.3 566.7,482.2 569.1,485.3 571.4,486.0 573.8,482.2 576.1,479.4 578.4,486.4 580.3,498.1 581.5,505.6" fill="none" stroke="#bcbcbc" stroke-width="0.75" stroke-linejoin="round" stroke-linecap="round"/>
<polyline points="581.5,505.6 583.6,510.2 585.4,508.6 586.8,504.6" fill="none" stroke="#5b8fe8" stroke-width="1.15" stroke-linejoin="round" stroke-linecap="round"/>
<polyline points="586.8,504.6 588.5,493.4 590.1,479.4 592.0,470.1 594.1,461.9 595.5,445.6" fill="none" stroke="#bcbcbc" stroke-width="0.75" stroke-linejoin="round" stroke-linecap="round"/>
<polyline points="595.5,445.6 597.1,432.7 599.0,425.7 600.6,418.7 602.2,416.8 604.1,419.9 605.8,425.7 607.1,435.0 608.8,443.2 610.7,446.7 612.3,450.9" fill="none" stroke="#e0243f" stroke-width="1.15" stroke-linejoin="round" stroke-linecap="round"/>
<polyline points="612.3,450.9 613.9,457.9 615.8,452.6" fill="none" stroke="#bcbcbc" stroke-width="0.75" stroke-linejoin="round" stroke-linecap="round"/>
<polyline points="615.8,452.6 618.1,450.2 620.5,447.9 622.3,444.9 624.0,446.7 625.1,451.9" fill="none" stroke="#e0243f" stroke-width="1.15" stroke-linejoin="round" stroke-linecap="round"/>
<polyline points="625.1,451.9 627.0,459.6 629.3,466.6 631.7,472.4 633.3,480.6 635.5,478.6 638.5,478.0 641.2,478.0 643.0,468.9 644.5,460.6 646.8,463.3 649.5,460.6 651.3,466.0 653.6,471.2 655.9,474.6 658.1,473.4 660.4,471.2 662.6,467.8 664.2,462.1 666.0,463.7 667.8,467.8 670.1,466.7 672.3,461.0 673.9,458.3 676.2,458.8 677.8,456.1 679.6,452.4" fill="none" stroke="#bcbcbc" stroke-width="0.75" stroke-linejoin="round" stroke-linecap="round"/>
<polyline points="679.6,452.4 681.4,447.5 683.2,445.9" fill="none" stroke="#e0243f" stroke-width="1.15" stroke-linejoin="round" stroke-linecap="round"/>

</g>
<rect x="30.8" y="403.2" width="652.7" height="114.30000000000001" fill="none" stroke="#3a3a3a" stroke-width="0.9"/>
<path d="M30.8 517.5v2.6 M85.8 517.5v2.6 M141.2 517.5v2.6 M194.8 517.5v2.6 M250.5 517.5v2.6 M304.4 517.5v2.6 M359.5 517.5v2.6 M414.8 517.5v2.6 M468.8 517.5v2.6 M524.5 517.5v2.6 M578.5 517.5v2.6 M633.5 517.5v2.6 M30.8 499.95h-2.6 M30.8 475.60h-2.6 M30.8 451.25h-2.6 M30.8 426.90h-2.6" stroke="#262626" stroke-width="0.8" fill="none"/>
<text x="30.8" y="528.4" font-size="8.6" text-anchor="middle" fill="#111">Jul</text>
<text x="85.8" y="528.4" font-size="8.6" text-anchor="middle" fill="#111">Aug</text>
<text x="141.2" y="528.4" font-size="8.6" text-anchor="middle" fill="#111">Sep</text>
<text x="194.8" y="528.4" font-size="8.6" text-anchor="middle" fill="#111">Oct</text>
<text x="250.5" y="528.4" font-size="8.6" text-anchor="middle" fill="#111">Nov</text>
<text x="304.4" y="528.4" font-size="8.6" text-anchor="middle" fill="#111">Dec</text>
<text x="359.5" y="528.4" font-size="8.6" text-anchor="middle" fill="#111">Jan</text>
<text x="414.8" y="528.4" font-size="8.6" text-anchor="middle" fill="#111">Feb</text>
<text x="468.8" y="528.4" font-size="8.6" text-anchor="middle" fill="#111">Mar</text>
<text x="524.5" y="528.4" font-size="8.6" text-anchor="middle" fill="#111">Apr</text>
<text x="578.5" y="528.4" font-size="8.6" text-anchor="middle" fill="#111">May</text>
<text x="633.5" y="528.4" font-size="8.6" text-anchor="middle" fill="#111">Jun</text>
<text x="26.6" y="503.7" font-size="8.6" text-anchor="end" fill="#111">−1</text>
<text x="26.6" y="479.3" font-size="8.6" text-anchor="end" fill="#111">0</text>
<text x="26.6" y="454.9" font-size="8.6" text-anchor="end" fill="#111">1</text>
<text x="26.6" y="430.6" font-size="8.6" text-anchor="end" fill="#111">2</text>
<text transform="translate(9.2,460) rotate(-90)" font-size="9.0" text-anchor="middle" fill="#111">Gt day<tspan font-size="6.3" dy="-3.0">−1</tspan></text>
<text x="30.6" y="397" font-size="9.2" fill="#111">b)</text>
<text x="249" y="392.6" font-size="11.3" fill="#111">Δ (Mean<tspan font-size="7.9" dy="2.3">2020–2024</tspan><tspan dy="-2.3"> − Mean</tspan><tspan font-size="7.9" dy="2.3">2003–2019</tspan><tspan dy="-2.3">)</tspan></text>
<text x="62.3" y="418.1" font-size="8.3" fill="#dc143c">124 Days &gt;+1σ</text>
<text x="62.3" y="427.7" font-size="8.3" fill="#6495ed">22 Days &lt;−1σ</text>
</svg>
</body></html>
